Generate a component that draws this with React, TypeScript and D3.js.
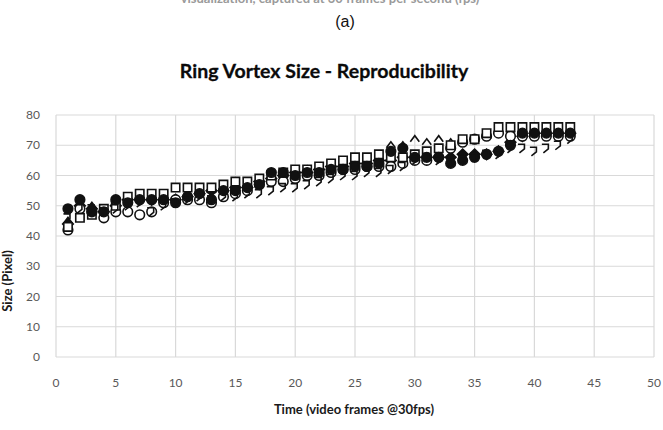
import React, { useEffect, useRef } from "react";
import * as d3 from "d3";

// Frames 1..43 (video frames @30fps)
const frames: number[] = d3.range(1, 44);

// Ring vortex size in pixels, one list per repeated run
const runFilledCircle: number[] = [49, 52, 48, 48, 52, 51, 52, 52, 52, 51, 53, 54, 52, 55, 55, 56, 57, 61, 61, 60, 61, 61, 62, 62, 63, 63, 64, 68, 69, 66, 66, 66, 64, 65, 66, 67, 68, 70, 74, 74, 74, 74, 74];
const runOpenCircle: number[] = [42, 49, 48, 46, 48, 48, 47, 48, 51, 52, 52, 52, 51, 53, 54, 55, 57, 58, 58, 59, 60, 60, 61, 62, 62, 63, 63, 63, 64, 65, 65, 66, 69, 71, 72, 73, 74, 73, 73, 73, 73, 73, 73];
const runOpenSquare: number[] = [43, 46, 47, 49, 50, 53, 54, 54, 54, 56, 56, 56, 56, 57, 58, 58, 59, 60, 61, 62, 62, 63, 64, 65, 66, 66, 67, 66, 66, 67, 68, 69, 70, 72, 72, 74, 76, 76, 76, 76, 76, 76, 76];
const runFilledDiamond: number[] = [44, 50, 49, 48, 50, 52, 52, 52, 52, 52, 53, 54, 55, 55, 56, 56, 58, 59, 60, 61, 61, 62, 63, 63, 64, 64, 65, 65, 66, 66, 66, 66, 66, 67, 67, 67, 68, 71, 73, 74, 74, 74, 74];
const runOpenTriangle: number[] = [45, 49, 50, 49, 51, 52, 53, 52, 52, 52, 54, 55, 55, 56, 57, 57, 58, 59, 60, 61, 62, 62, 63, 64, 64, 65, 66, 70, 70, 72, 71, 72, 71, 71, 72, 73, 75, 75, 75, 75, 74, 74, 74];
const runHook: number[] = [46, 49, 49, 48, 49, 50, 51, 48, 50, 51, 52, 53, 52, 53, 53, 54, 54, 55, 56, 56, 57, 58, 59, 60, 60, 61, 61, 62, 63, 65, 66, 65, 64, 65, 66, 67, 67, 69, 69, 68, 69, 70, 72];

const xTicks: number[] = [0, 5, 10, 15, 20, 25, 30, 35, 40, 45, 50];
const yTicks: number[] = [0, 10, 20, 30, 40, 50, 60, 70, 80];

const title = "Ring Vortex Size - Reproducibility";
const xTitle = "Time (video frames @30fps)";
const yTitle = "Size (Pixel)";
const panelLabel = "(a)";
const captionTail = "visualization, captured at 30 frames per second (fps)";

type MarkerKind = "filledCircle" | "openCircle" | "openSquare" | "filledDiamond" | "openTriangle" | "hook";

const seriesList: { name: string; kind: MarkerKind; values: number[] }[] = [
  { name: "Run 5", kind: "openTriangle", values: runOpenTriangle },
  { name: "Run 4", kind: "filledDiamond", values: runFilledDiamond },
  { name: "Run 2", kind: "openCircle", values: runOpenCircle },
  { name: "Run 3", kind: "openSquare", values: runOpenSquare },
  { name: "Run 1", kind: "filledCircle", values: runFilledCircle },
  { name: "Run 6", kind: "hook", values: runHook },
];

const W = 663;
const H = 430;
const plot = { left: 56, right: 654, top: 115, bottom: 357 };
const uiFont = "Lato, 'Open Sans', sans-serif";

export default function App() {
  const ref = useRef<SVGSVGElement>(null);

  useEffect(() => {
    const svg = d3.select(ref.current);
    svg.selectAll("*").remove();

    const x = d3.scaleLinear().domain([0, 50]).range([plot.left, plot.right]);
    const y = d3.scaleLinear().domain([0, 80]).range([plot.bottom, plot.top]);

    // caption tail of the figure above, running off the page top
    svg.append("text")
      .attr("x", 330).attr("y", 3)
      .attr("text-anchor", "middle")
      .attr("font-family", uiFont).attr("font-weight", 700)
      .attr("font-size", 13).attr("fill", "#9a9a9a")
      .text(captionTail);

    svg.append("text")
      .attr("x", 345).attr("y", 27)
      .attr("text-anchor", "middle")
      .attr("font-family", "'Liberation Sans', Arial, sans-serif")
      .attr("font-size", 16).attr("fill", "#111")
      .text(panelLabel);

    svg.append("text")
      .attr("x", 324).attr("y", 78)
      .attr("text-anchor", "middle")
      .attr("font-family", uiFont).attr("font-weight", 700)
      .attr("font-size", 19.5).attr("fill", "#0a0a0a")
      .attr("stroke", "#0a0a0a").attr("stroke-width", 0.3)
      .text(title);

    // gridlines
    const grid = svg.append("g").attr("stroke", "#d9d9d9").attr("stroke-width", 1.2);
    grid.selectAll("line.h").data(yTicks).join("line")
      .attr("x1", plot.left).attr("x2", plot.right)
      .attr("y1", (d) => y(d)).attr("y2", (d) => y(d));
    grid.selectAll("line.v").data(xTicks).join("line")
      .attr("y1", plot.top).attr("y2", plot.bottom)
      .attr("x1", (d) => x(d)).attr("x2", (d) => x(d));

    // tick labels
    svg.append("g").selectAll("text").data(yTicks).join("text")
      .attr("x", 40).attr("y", (d) => y(d) + 4)
      .attr("text-anchor", "end")
      .attr("font-family", uiFont).attr("font-size", 12).attr("fill", "#595959")
      .text((d) => d);
    svg.append("g").selectAll("text").data(xTicks).join("text")
      .attr("x", (d) => x(d)).attr("y", 387)
      .attr("text-anchor", "middle")
      .attr("font-family", uiFont).attr("font-size", 12).attr("fill", "#595959")
      .text((d) => d);

    // axis titles
    svg.append("text")
      .attr("x", 354).attr("y", 414)
      .attr("text-anchor", "middle")
      .attr("font-family", uiFont).attr("font-weight", 700)
      .attr("font-size", 13).attr("fill", "#1a1a1a")
      .text(xTitle);
    svg.append("text")
      .attr("transform", "translate(12,281) rotate(-90)")
      .attr("text-anchor", "middle")
      .attr("font-family", uiFont).attr("font-weight", 700)
      .attr("font-size", 13).attr("fill", "#1a1a1a")
      .text(yTitle);

    // markers
    const symCircle = d3.symbol().type(d3.symbolCircle).size(72)();
    const symSquare = d3.symbol().type(d3.symbolSquare).size(70)();
    const symDiamond = d3.symbol().type(d3.symbolDiamond2).size(72)();
    const hookPath = "M-4.5,-4 L2,-4 L2,0.5 L-3,4.5";
    const trianglePath = "M-4.5,2.5 L0,-3.5 L4.5,2.5";

    seriesList.forEach((s) => {
      const g = svg.append("g");
      const pts = frames.map((f, i) => ({ f, v: s.values[i] }));
      const sel = g.selectAll("path").data(pts).join("path")
        .attr("transform", (d) => `translate(${x(d.f)},${y(d.v)})`)
        .attr("stroke", "#111").attr("stroke-width", 1.6);
      if (s.kind === "filledCircle") {
        sel.attr("d", symCircle).attr("fill", "#111");
      } else if (s.kind === "openCircle") {
        sel.attr("d", symCircle).attr("fill", "#fff");
      } else if (s.kind === "openSquare") {
        sel.attr("d", symSquare).attr("fill", "#fff");
      } else if (s.kind === "filledDiamond") {
        sel.attr("d", symDiamond).attr("fill", "#111");
      } else if (s.kind === "openTriangle") {
        sel.attr("d", trianglePath).attr("fill", "none");
      } else {
        sel.attr("d", hookPath).attr("fill", "none");
      }
    });
  }, []);

  return (
    <svg
      ref={ref}
      width={W}
      height={H}
      style={{ position: "absolute", left: 0, top: 0, background: "#fff", display: "block" }}
    />
  );
}
